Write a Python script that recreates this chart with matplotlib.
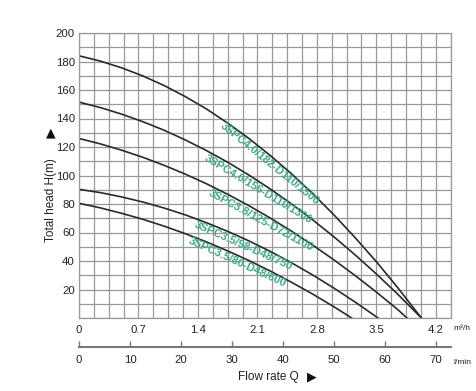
import numpy as np
import matplotlib.pyplot as plt

plt.rcParams['font.family'] = ['Liberation Sans', 'DejaVu Sans']

# pump curves: flow rate Q (m3/h) vs total head H (m)
q_182 = [0, 0.25, 0.5, 0.75, 1.0, 1.25, 1.5, 1.75, 2.0, 2.25, 2.5, 2.75, 3.0, 3.25, 3.5, 3.75, 4.03]
h_182 = [184, 180.3, 175.6, 169.9, 163.2, 155.4, 146.7, 136.8, 126.0, 114.1, 101.3, 87.3, 72.4, 56.4, 39.5, 21.4, 0]

q_156 = [0, 0.25, 0.5, 0.75, 1.0, 1.25, 1.5, 1.75, 2.0, 2.25, 2.5, 2.75, 3.0, 3.25, 3.5, 3.75, 4.03]
h_156 = [151.5, 147.7, 143.1, 137.8, 131.8, 125.0, 117.5, 109.3, 100.3, 90.6, 80.1, 68.9, 57.0, 44.3, 30.9, 16.8, 0]

q_125 = [0, 0.25, 0.5, 0.75, 1.0, 1.25, 1.5, 1.75, 2.0, 2.25, 2.5, 2.75, 3.0, 3.25, 3.5, 3.75, 3.86]
h_125 = [126, 122.2, 117.8, 112.8, 107.2, 101.0, 94.2, 86.8, 78.8, 70.2, 61.0, 51.2, 40.8, 29.8, 18.2, 6.0, 0]

q_98 = [0, 0.25, 0.5, 0.75, 1.0, 1.25, 1.5, 1.75, 2.0, 2.25, 2.5, 2.75, 3.0, 3.25, 3.52]
h_98 = [90.3, 88.0, 85.0, 81.4, 77.2, 72.4, 66.9, 60.8, 54.1, 46.8, 38.8, 30.2, 21.0, 11.2, 0]

q_80 = [0, 0.25, 0.5, 0.75, 1.0, 1.25, 1.5, 1.75, 2.0, 2.25, 2.5, 2.75, 3.0, 3.21]
h_80 = [80.5, 77.3, 73.5, 69.3, 64.5, 59.2, 53.4, 47.1, 40.3, 33.0, 25.1, 16.8, 7.9, 0]

model_names = ["3SPC4.0/182-D110/1500", "3SPC4.0/156-D110/1300", "3SPC3.8/125-D72/1100",
               "3SPC3.5/98-D48/750", "3SPC3.5/80-D48/600"]
curves = [(q_182, h_182), (q_156, h_156), (q_125, h_125), (q_98, h_98), (q_80, h_80)]

# where each label sits along its curve (flow rate) and its slant in degrees
label_q = [2.29, 2.15, 2.18, 1.97, 1.90]
label_angle = [39, 31, 28.5, 24, 24.5]

q_ticks = [0, 0.7, 1.4, 2.1, 2.8, 3.5, 4.2]
q_labels = ["0", "0.7", "1.4", "2.1", "2.8", "3.5", "4.2"]
lpm_ticks = [0, 10, 20, 30, 40, 50, 60, 70]
h_ticks = [20, 40, 60, 80, 100, 120, 140, 160, 180, 200]

W, H = 477, 391
fig = plt.figure(figsize=(W / 100, H / 100), dpi=100)
ax = fig.add_axes([79 / W, 1 - 318 / H, (450.7 - 79) / W, 285 / H])

ax.set_xlim(0, 4.375)
ax.set_ylim(0, 200)

ax.set_xticks(q_ticks)
ax.set_xticklabels(q_labels)
ax.set_xticks(np.arange(0, 4.38, 0.175), minor=True)
ax.set_yticks(h_ticks)
ax.set_yticks(np.arange(0, 201, 10), minor=True)
ax.grid(which='both', color='#999999', linewidth=0.9)
ax.set_axisbelow(True)
ax.tick_params(which='both', length=0, labelsize=8.2, colors='#222222')
ax.tick_params(axis='x', pad=5)
ax.tick_params(axis='y', pad=3)
for s in ax.spines.values():
    s.set_color('#999999')
    s.set_linewidth(0.9)

for (q, h) in curves:
    ax.plot(q, h, color='#2a2a2a', linewidth=1.2)

# labels sit just under their curve
gap = 4.6  # points
for name, (q, h), lq, ang in zip(model_names, curves, label_q, label_angle):
    a = np.radians(ang)
    ax.annotate(name, xy=(lq, np.interp(lq, q, h)),
                xytext=(-gap * np.sin(a), -gap * np.cos(a)), textcoords='offset points',
                rotation=-ang, rotation_mode='anchor', ha='center', va='center',
                fontsize=8, fontweight='bold', color='#3aa88a')

# second flow scale in l/min
sec = ax.secondary_xaxis(-(347 - 318) / 285, functions=(lambda q: q * 1000 / 60, lambda l: l * 60 / 1000))
sec.set_xticks(lpm_ticks)
sec.tick_params(direction='in', length=4, width=1, color='#777777', pad=6, labelsize=8.2, labelcolor='#222222')
sec.spines['bottom'].set_color('#777777')
sec.spines['bottom'].set_linewidth(1.5)

fig.text(453 / W, 1 - 329 / H, "m³/h", fontsize=6, va='center', color='#222222')
fig.text(453 / W, 1 - 362 / H, "l/min", fontsize=6, va='center', color='#222222')
fig.text(268 / W, 1 - 377 / H, "Flow rate Q", fontsize=8.5, ha='center', va='center', color='#222222')
fig.text(312 / W, 1 - 377 / H, "▶", fontsize=9, ha='center', va='center', color='#111111', family='DejaVu Sans')
fig.text(51 / W, 1 - 200 / H, "Total head H(m)", rotation=90, fontsize=8.5, ha='center', va='center', color='#222222')
fig.text(51 / W, 1 - 133 / H, "▲", fontsize=9, ha='center', va='center', color='#111111', family='DejaVu Sans')

fig.savefig("out.png", dpi=100, facecolor='white')
